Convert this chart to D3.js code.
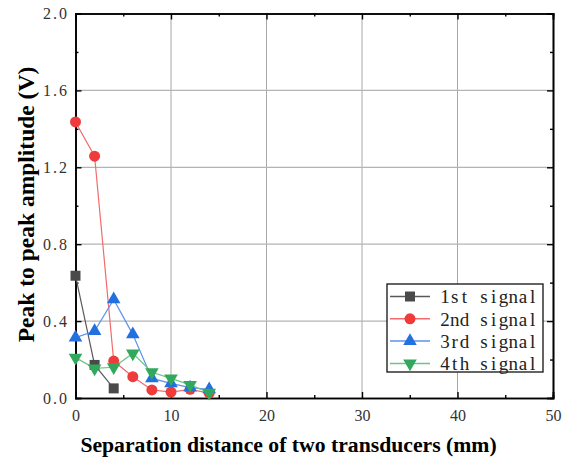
<!DOCTYPE html>
<html><head><meta charset="utf-8">
<script src="https://cdn.jsdelivr.net/npm/d3@7"></script>
<style>body{margin:0;background:#fff}</style>
</head><body>
<svg id="c" width="570" height="459"></svg>
<script>
const xValues = [0, 2, 4, 6, 8, 10, 12, 14];
const s1 = [0.636, 0.172, 0.050];
const s2 = [1.436, 1.258, 0.192, 0.111, 0.042, 0.031, 0.045, 0.025];
const s3 = [0.314, 0.348, 0.513, 0.331, 0.102, 0.076, 0.054, 0.045];
const s4 = [0.210, 0.154, 0.160, 0.232, 0.134, 0.102, 0.068, 0.028];
const seriesNames = ["1st signal", "2nd signal", "3rd signal", "4th signal"];
const xTicks = [0, 10, 20, 30, 40, 50];
const yTicks = [0.0, 0.4, 0.8, 1.2, 1.6, 2.0];

const series = [
  {name: seriesNames[0], vals: s1, color: "#4a4a4a", line: "#5a5a5a", sym: d3.symbolSquare},
  {name: seriesNames[1], vals: s2, color: "#ef3b3b", line: "#f36b6b", sym: d3.symbolCircle},
  {name: seriesNames[2], vals: s3, color: "#2370e0", line: "#5b93ea", sym: d3.symbolTriangle},
  {name: seriesNames[3], vals: s4, color: "#32a85c", line: "#6cc48a", sym: "down"}
];

const FONT = "'Liberation Serif', 'Times New Roman', serif";
const svg = d3.select("#c");
const L = 75.5, R = 553, T = 13.5, B = 398;
const x = d3.scaleLinear().domain([0, 50]).range([L, R]);
const y = d3.scaleLinear().domain([0, 2]).range([B, T]);

// draws a string as fixed-width cells (monospace look)
function monoCells(textSel, cellW, anchor) {
  textSel.each(function() {
    const t = d3.select(this);
    const str = t.text();
    const x0 = +t.attr("x") || 0;
    const n = str.length;
    let start = anchor === "end" ? x0 - n * cellW : anchor === "middle" ? x0 - n * cellW / 2 : x0;
    t.text(null).attr("text-anchor", "middle");
    for (let i = 0; i < n; i++) {
      t.append("tspan").attr("x", start + (i + 0.5) * cellW).text(str[i]);
    }
  });
}

// grid
const g = svg.append("g");
g.selectAll(".gx").data(xTicks.slice(1, -1)).enter().append("line")
  .attr("x1", d => x(d)).attr("x2", d => x(d)).attr("y1", T).attr("y2", B)
  .attr("stroke", "#a8a8a8").attr("stroke-width", 1);
g.selectAll(".gy").data(yTicks.slice(1, -1)).enter().append("line")
  .attr("y1", d => y(d)).attr("y2", d => y(d)).attr("x1", L).attr("x2", R)
  .attr("stroke", "#b4b4b4").attr("stroke-width", 1.3);

// axes
const fmt = d3.format(".1f");
const ax = svg.append("g").attr("transform", `translate(0,${B})`)
  .call(d3.axisBottom(x).tickValues(xTicks).tickSize(-6).tickPadding(12).tickFormat(d3.format("d")));
const ax2 = svg.append("g").attr("transform", `translate(0,${B})`)
  .call(d3.axisBottom(x).tickValues([5,15,25,35,45]).tickSize(-3).tickFormat(""));
const axT = svg.append("g").attr("transform", `translate(0,${T})`)
  .call(d3.axisTop(x).tickValues(xTicks).tickSize(-6).tickFormat(""));
const axT2 = svg.append("g").attr("transform", `translate(0,${T})`)
  .call(d3.axisTop(x).tickValues([5,15,25,35,45]).tickSize(-3).tickFormat(""));
const ay = svg.append("g").attr("transform", `translate(${L},0)`)
  .call(d3.axisLeft(y).tickValues(yTicks).tickSize(-6).tickPadding(8.5).tickFormat(fmt));
const ay2 = svg.append("g").attr("transform", `translate(${L},0)`)
  .call(d3.axisLeft(y).tickValues([0.2,0.6,1.0,1.4,1.8]).tickSize(-3).tickFormat(""));
const ayR = svg.append("g").attr("transform", `translate(${R},0)`)
  .call(d3.axisRight(y).tickValues(yTicks).tickSize(-6).tickFormat(""));
const ayR2 = svg.append("g").attr("transform", `translate(${R},0)`)
  .call(d3.axisRight(y).tickValues([0.2,0.6,1.0,1.4,1.8]).tickSize(-3).tickFormat(""));
[ax, ax2, axT, axT2, ay, ay2, ayR, ayR2].forEach(a => {
  a.select(".domain").attr("stroke", "#000").attr("stroke-width", 1.6);
  a.selectAll(".tick line").attr("stroke", "#000").attr("stroke-width", 1.4);
  a.selectAll(".tick text").attr("fill", "#333").style("font-family", FONT).style("font-size", "16px");
});
monoCells(ay.selectAll(".tick text"), 8, "end");
monoCells(ax.selectAll(".tick text"), 8, "middle");

// series
const sym = (s, size) => s === "down"
  ? d3.symbol().type(d3.symbolTriangle).size(size)() : d3.symbol().type(s).size(size)();
const sizeOf = s => s === d3.symbolSquare ? 100 : s === d3.symbolCircle ? 95 : 80;
series.forEach(s => {
  const pts = s.vals.map((v, i) => [xValues[i], v]);
  svg.append("path").datum(pts)
    .attr("d", d3.line().x(d => x(d[0])).y(d => y(d[1])))
    .attr("fill", "none").attr("stroke", s.line).attr("stroke-width", 1.2);
  svg.selectAll(null).data(pts).enter().append("path")
    .attr("d", sym(s.sym, sizeOf(s.sym)))
    .attr("transform", d => `translate(${x(d[0])},${y(d[1])})` + (s.sym === "down" ? " rotate(180)" : ""))
    .attr("fill", s.color);
});

// legend
const lg = svg.append("g");
lg.append("rect").attr("x", 387).attr("y", 284).attr("width", 156).attr("height", 88)
  .attr("fill", "#fff").attr("stroke", "#111").attr("stroke-width", 1.3);
series.forEach((s, i) => {
  const cy = 296.5 + i * 22.3;
  lg.append("line").attr("x1", 390).attr("x2", 430).attr("y1", cy).attr("y2", cy)
    .attr("stroke", s.line).attr("stroke-width", 1.5);
  lg.append("path").attr("d", sym(s.sym, sizeOf(s.sym)))
    .attr("transform", `translate(410,${cy})` + (s.sym === "down" ? " rotate(180)" : ""))
    .attr("fill", s.color);
  lg.append("text").attr("x", 440).attr("y", cy).attr("dy", "0.36em")
    .style("font-family", FONT).style("font-size", "19px")
    .attr("fill", "#222").text(s.name);
});
monoCells(lg.selectAll("text"), 9.75, "start");

// titles
svg.append("text").attr("x", 288.5).attr("y", 452)
  .attr("text-anchor", "middle")
  .style("font-family", FONT).style("font-weight", "bold").style("font-size", "21.7px")
  .text("Separation distance of two transducers (mm)");
svg.append("text").attr("transform", "translate(34,204.5) rotate(-90)")
  .attr("text-anchor", "middle")
  .style("font-family", FONT).style("font-weight", "bold").style("font-size", "23.5px")
  .text("Peak to peak amplitude (V)");
</script>
</body></html>
